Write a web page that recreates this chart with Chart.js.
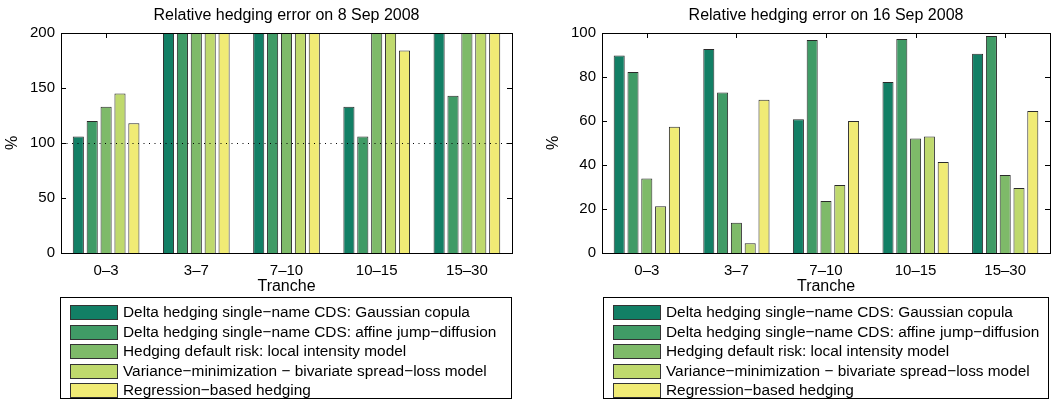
<!DOCTYPE html>
<html lang="en">
<head>
    <meta charset="UTF-8">
    <title>Relative hedging error</title>
    <script src="https://cdn.jsdelivr.net/npm/chart.js"></script>
    <style>
        body { margin: 0; background: #fff; width: 1063px; height: 401px; position: relative; overflow: hidden;
               font-family: "Liberation Sans", Arial, Helvetica, sans-serif; }
        .chartBox { position: absolute; top: 0; height: 300px; }
        .legend { position: absolute; top: 297px; height: 102px; border: 1px solid #000; box-sizing: border-box; background: #fff; }
        .legend .row { position: absolute; height: 20px; font-size: 15.4px; line-height: 20px; color: #000; white-space: nowrap; }
        .legend .sw { position: absolute; left: 0; top: 3px; width: 46px; height: 13px; border: 1px solid #333; }
        .legend .lbl { position: absolute; left: 53px; top: 0; }
    </style>
</head>
<body>
    <div class="chartBox" style="left:0; width:530px;"><canvas id="chartSep8"></canvas></div>
    <div class="chartBox" style="left:530px; width:533px;"><canvas id="chartSep16"></canvas></div>
    <div class="legend" id="legendSep8" style="left:60px; width:452px;"></div>
    <div class="legend" id="legendSep16" style="left:603px; width:446px;"></div>

    <script>
        const tranches = ['0\u20133', '3\u20137', '7\u201310', '10\u201315', '15\u201330'];
        const methods = [
            'Delta hedging single\u2212name CDS: Gaussian copula',
            'Delta hedging single\u2212name CDS: affine jump\u2212diffusion',
            'Hedging default risk: local intensity model',
            'Variance\u2212minimization \u2212 bivariate spread\u2212loss model',
            'Regression\u2212based hedging'
        ];
        const colors = ['#127f65', '#409b66', '#7eba69', '#bfd96d', '#f0eb75'];

        // 8 Sep 2008 (bars above 200 are cut off in the original)
        const sep8Gaussian   = [106, 250, 250, 133, 250];
        const sep8Affine     = [120, 250, 250, 106, 143];
        const sep8Local      = [133, 250, 250, 250, 250];
        const sep8Variance   = [145, 250, 250, 250, 250];
        const sep8Regression = [118, 250, 250, 184, 250];
        const sep8Ticks = [0, 50, 100, 150, 200];

        // 16 Sep 2008
        const sep16Gaussian   = [89.8, 92.7, 60.8, 77.7, 90.6];
        const sep16Affine     = [82.3, 73.0, 96.8, 97.3, 98.6];
        const sep16Local      = [33.9, 13.8, 23.6, 52.1, 35.5];
        const sep16Variance   = [21.2, 4.4, 30.9, 52.9, 29.5];
        const sep16Regression = [57.4, 69.7, 60.0, 41.4, 64.5];
        const sep16Ticks = [0, 20, 40, 60, 80, 100];

        const fontFamily = '"Liberation Sans", Arial, Helvetica, sans-serif';

        // axis box, inward ticks and reference line, matlab style
        const axesBox = {
            id: 'axesBox',
            beforeDatasetsDraw(chart) {
                const {ctx, chartArea: a, scales} = chart;
                ctx.save();
                ctx.strokeStyle = '#000';
                ctx.lineWidth = 1;
                ctx.beginPath();
                scales.y.ticks.forEach(t => {
                    const y = Math.round(scales.y.getPixelForValue(t.value)) + 0.5;
                    ctx.moveTo(a.left, y); ctx.lineTo(a.left + 5, y);
                    ctx.moveTo(a.right, y); ctx.lineTo(a.right - 5, y);
                });
                scales.x.ticks.forEach((t, i) => {
                    const x = Math.round(scales.x.getPixelForTick(i)) + 0.5;
                    ctx.moveTo(x, a.bottom); ctx.lineTo(x, a.bottom - 5);
                    ctx.moveTo(x, a.top); ctx.lineTo(x, a.top + 5);
                });
                ctx.stroke();
                ctx.restore();
            },
            afterDatasetsDraw(chart, args, opts) {
                const {ctx, chartArea: a, scales} = chart;
                ctx.save();
                if (opts.refLine !== undefined) {
                    const y = Math.round(scales.y.getPixelForValue(opts.refLine)) + 0.5;
                    ctx.strokeStyle = '#000';
                    ctx.setLineDash([1, 4.5]);
                    ctx.beginPath();
                    ctx.moveTo(a.left, y); ctx.lineTo(a.right, y);
                    ctx.stroke();
                    ctx.setLineDash([]);
                }
                ctx.strokeStyle = '#000';
                ctx.lineWidth = 1;
                ctx.strokeRect(Math.round(a.left) + 0.5, Math.round(a.top) + 0.5,
                               Math.round(a.right - a.left), Math.round(a.bottom - a.top));
                ctx.restore();
            }
        };

        function makeChart(id, title, series, ticks, yWidth, rightPad, refLine) {
            const ctx = document.getElementById(id).getContext('2d');
            return new Chart(ctx, {
                type: 'bar',
                data: {
                    labels: tranches,
                    datasets: series.map((d, i) => ({
                        label: methods[i],
                        data: d,
                        backgroundColor: colors[i],
                        borderColor: '#2a2a2a',
                        borderWidth: 1,
                        categoryPercentage: 0.77,
                        barPercentage: 0.8
                    }))
                },
                options: {
                    responsive: true,
                    maintainAspectRatio: false,
                    animation: false,
                    layout: { padding: { left: 0, right: rightPad, top: 0, bottom: 0 } },
                    plugins: {
                        legend: { display: false },
                        tooltip: { enabled: false },
                        title: {
                            display: true,
                            fullSize: false,
                            text: title,
                            color: '#000',
                            font: { family: fontFamily, size: 16, weight: 'normal' },
                            padding: { top: 6, bottom: 7.8 }
                        },
                        axesBox: { refLine: refLine }
                    },
                    scales: {
                        x: {
                            grid: { display: false, drawTicks: false },
                            border: { display: false },
                            ticks: { color: '#000', padding: 9, font: { family: fontFamily, size: 15 } },
                            title: { display: true, text: 'Tranche', color: '#000',
                                     font: { family: fontFamily, size: 16 }, padding: { bottom: 4 } },
                            afterFit(scale) { scale.height = 47; }
                        },
                        y: {
                            min: 0,
                            max: ticks[ticks.length - 1],
                            afterBuildTicks(scale) { scale.ticks = ticks.map(v => ({ value: v })); },
                            grid: { display: false, drawTicks: false },
                            border: { display: false },
                            ticks: { color: '#000', padding: 6, font: { family: fontFamily, size: 15 } },
                            title: { display: true, text: '%', color: '#000',
                                     font: { family: fontFamily, size: 16 }, padding: { top: yWidth - 58 } },
                            afterFit(scale) { scale.width = yWidth; }
                        }
                    }
                },
                plugins: [axesBox]
            });
        }

        makeChart('chartSep8', 'Relative hedging error on 8 Sep 2008',
            [sep8Gaussian, sep8Affine, sep8Local, sep8Variance, sep8Regression],
            sep8Ticks, 61, 18, 100);
        makeChart('chartSep16', 'Relative hedging error on 16 Sep 2008',
            [sep16Gaussian, sep16Affine, sep16Local, sep16Variance, sep16Regression],
            sep16Ticks, 72, 13, undefined);

        function buildLegend(id) {
            const box = document.getElementById(id);
            methods.forEach((m, i) => {
                const row = document.createElement('div');
                row.className = 'row';
                row.style.left = '9px';
                row.style.top = (4 + i * 19.5) + 'px';
                const sw = document.createElement('div');
                sw.className = 'sw';
                sw.style.background = colors[i];
                const lbl = document.createElement('span');
                lbl.className = 'lbl';
                lbl.textContent = m;
                row.appendChild(sw);
                row.appendChild(lbl);
                box.appendChild(row);
            });
        }
        buildLegend('legendSep8');
        buildLegend('legendSep16');
    </script>
</body>
</html>
